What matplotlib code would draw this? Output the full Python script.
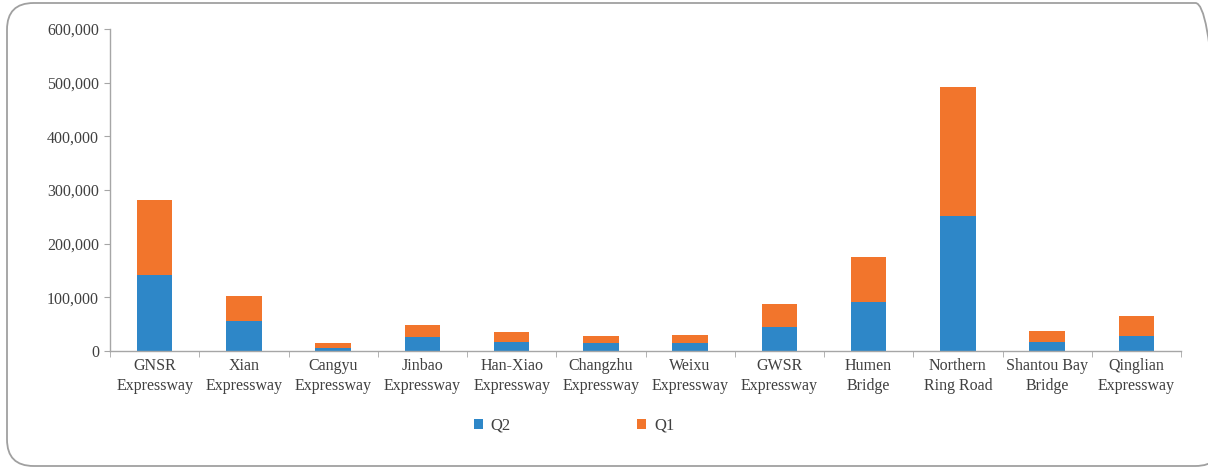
"""Stacked bar chart of quarterly toll traffic by road section."""
import matplotlib
matplotlib.use("Agg")
import matplotlib.pyplot as plt
import numpy as np
from matplotlib.patches import FancyBboxPatch
from matplotlib.ticker import FuncFormatter

roads = [
    "GNSR\nExpressway", "Xian\nExpressway", "Cangyu\nExpressway", "Jinbao\nExpressway",
    "Han-Xiao\nExpressway", "Changzhu\nExpressway", "Weixu\nExpressway", "GWSR\nExpressway",
    "Humen\nBridge", "Northern\nRing Road", "Shantou Bay\nBridge", "Qinglian\nExpressway",
]
q2 = [141000, 55300, 6200, 25500, 16800, 14300, 15000, 44700, 90700, 252100, 17300, 28500]
q1 = [141000, 47700, 8700, 22900, 18600, 14400, 15600, 42900, 85000, 239200, 20000, 36700]

BLUE = "#2E87C8"
ORANGE = "#F2752C"
AXIS = "#A6A6A6"
TEXT = "#404040"

plt.rcParams["font.family"] = ["Liberation Serif", "DejaVu Serif"]
plt.rcParams["font.size"] = 11.5

fig = plt.figure(figsize=(12.08, 4.67), dpi=100)

# rounded frame around the whole chart
frame = FancyBboxPatch(
    (7 / 1208, 1 / 467), 1215 / 1208, 463 / 467,
    boxstyle="round,pad=0,rounding_size=0.022",
    transform=fig.transFigure, facecolor="none", edgecolor="#A0A0A0", linewidth=1.3,
    mutation_aspect=1208 / 467,
)
fig.patches.append(frame)

ax = fig.add_axes([110 / 1208, 116 / 467, 1071 / 1208, 322 / 467])
x = np.arange(len(roads))
ax.bar(x, q2, width=0.4, color=BLUE, label="Q2", zorder=2)
ax.bar(x, q1, width=0.4, bottom=q2, color=ORANGE, label="Q1", zorder=2)

ax.set_xlim(-0.5, len(roads) - 0.5)
ax.set_ylim(0, 600000)
ax.set_yticks(np.arange(0, 600001, 100000))
ax.yaxis.set_major_formatter(FuncFormatter(lambda v, _: f"{int(v):,}"))

ax.set_xticks(x)
ax.set_xticklabels(roads, linespacing=1.35)
ax.set_xticks(np.arange(-0.5, len(roads)), minor=True)
ax.tick_params(axis="x", which="major", length=0, pad=5, colors=TEXT)
ax.tick_params(axis="x", which="minor", length=4, color=AXIS)
ax.tick_params(axis="y", length=4, color=AXIS, colors=TEXT, pad=4)

for side in ("top", "right"):
    ax.spines[side].set_visible(False)
for side in ("left", "bottom"):
    ax.spines[side].set_color(AXIS)
    ax.spines[side].set_linewidth(1.0)

fig.legend(
    loc="center", bbox_to_anchor=(574 / 1208, 41 / 467), ncol=2, frameon=False,
    handlelength=0.55, handleheight=0.55, handletextpad=0.45, columnspacing=7.6,
    labelcolor=TEXT, fontsize=12,
)

fig.savefig("out.png", dpi=100)
